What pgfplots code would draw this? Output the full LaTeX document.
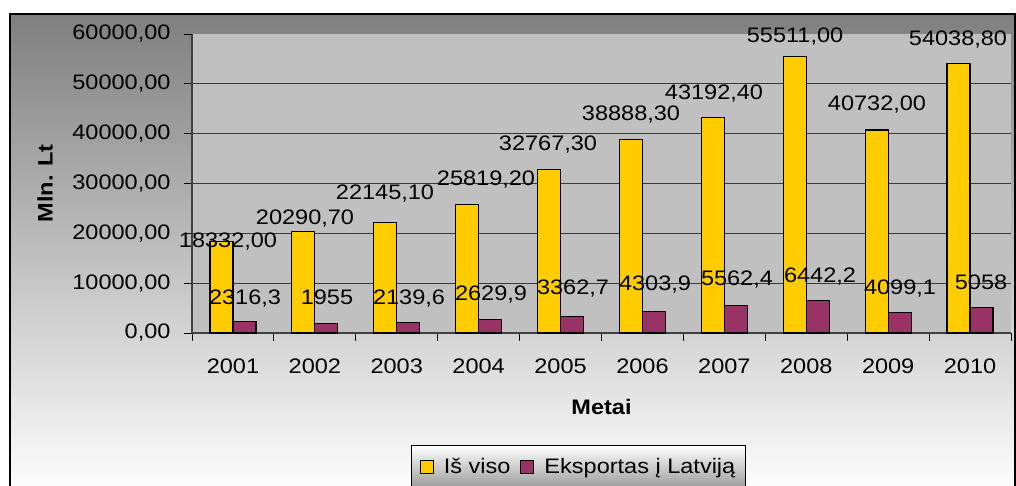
\documentclass[border=0pt]{standalone}
\usepackage{fontspec}
\setmainfont{Liberation Sans}[FakeStretch=1.12]
\usepackage{pgfplots}
\pgfplotsset{compat=1.18}
\definecolor{barY}{HTML}{FFCC00}
\definecolor{barM}{HTML}{993366}
\definecolor{plotgray}{HTML}{C0C0C0}
\definecolor{bgtop}{HTML}{7F7F7F}
\definecolor{gridgray}{HTML}{3A3A3A}
\definecolor{axisgray}{HTML}{404040}
\definecolor{leggray}{HTML}{9A9A9A}

\pgfplotstableread{
x y
0 18332.00
1 20290.70
2 22145.10
3 25819.20
4 32767.30
5 38888.30
6 43192.40
7 55511.00
8 40732.00
9 54038.80
}\tblY
\pgfplotstableread{
x y
0 2316.3
1 1955
2 2139.6
3 2629.9
4 3362.7
5 4303.9
6 5562.4
7 6442.2
8 4099.1
9 5058
}\tblM
\pgfplotstableread{
x y lab
-0.06 18662 18332,00
0.88 23278 20290,70
1.857 28294 22145,10
3.09 31104 25819,20
3.847 38127 32767,30
4.86 44147 38888,30
5.874 48361 43192,40
6.863 59800 55511,00
7.864 46154 40732,00
8.853 59198 54038,80
}\labY
\pgfplotstableread{
x y lab
0.147 7224 2316,3
1.148 7224 1955
2.15 7224 2139,6
3.151 8027 2629,9
4.152 9231 3362,7
5.153 10033 4303,9
6.154 11037 5562,4
7.168 11639 6442,2
8.145 9231 4099,1
9.134 10234 5058
}\labM

\begin{document}
\begin{tikzpicture}[font=\fontsize{21}{25}\selectfont]
\useasboundingbox (0,0) rectangle (1016pt,486pt);
\clip (0,0) rectangle (1016pt,486pt);
\shade[top color=bgtop, bottom color=white] (10pt,-10pt) rectangle (1015pt,472pt);
\draw[black, line width=1.5pt] (10pt,-10pt) rectangle (1015pt,472pt);
\begin{axis}[
  at={(192pt,153pt)}, anchor=south west,
  scale only axis, width=819pt, height=299pt,
  xmin=-0.5, xmax=9.5, ymin=0, ymax=60000,
  clip=false,
  axis background/.style={fill=plotgray},
  axis x line*=bottom, axis y line*=left,
  axis line style={line width=1.2pt, color=axisgray},
  xtick={-0.5,0.5,1.5,2.5,3.5,4.5,5.5,6.5,7.5,8.5,9.5},
  xticklabels={},
  extra x ticks={0,1,2,3,4,5,6,7,8,9},
  extra x tick labels={2001,2002,2003,2004,2005,2006,2007,2008,2009,2010},
  extra x tick style={major tick length=0pt, grid=none, xticklabel style={yshift=-22pt}},
  ytick={0,10000,20000,30000,40000,50000},
  extra y ticks={60000}, extra y tick style={grid=none},
  ymajorgrids, major grid style={color=gridgray, line width=0.9pt},
  tick align=outside, major tick length=8pt,
  tick style={color=black, line width=0.9pt},
  scaled y ticks=false,
  /pgf/number format/fixed,
  /pgf/number format/fixed zerofill,
  /pgf/number format/precision=2,
  /pgf/number format/use comma,
  /pgf/number format/1000 sep={},
  /pgf/number format/assume math mode=true,
  yticklabel style={xshift=-10pt},
  xlabel={\bfseries Metai},
  xlabel style={at={(axis description cs:0.5,-0.2475)}, anchor=center},
  ylabel={\bfseries Mln. Lt},
  ylabel style={at={(axis description cs:-0.1795,0.5)}, anchor=center, rotate=0},
  legend style={at={(axis description cs:0.472,-0.3746)}, anchor=north,
    legend columns=-1, draw=black, line width=1pt,
    top color=white, bottom color=leggray,
    inner xsep=8pt, inner ysep=11pt,
    /tikz/every odd column/.append style={column sep=8pt},
    /tikz/every even column/.append style={column sep=8pt}},
  legend cell align=left,
]
\addplot[ybar, bar width=23pt, bar shift=-11.5pt, fill=barY, draw=black, line width=1.2pt,
  legend image code/.code={\draw[fill=barY, draw=black, line width=1pt] (0pt,-6.5pt) rectangle (13pt,6.5pt);}]
  table[x=x, y=y] {\tblY};
\addplot[ybar, bar width=23pt, bar shift=11.5pt, fill=barM, draw=black, line width=1.2pt,
  legend image code/.code={\draw[fill=barM, draw=black, line width=1pt] (0pt,-6.5pt) rectangle (13pt,6.5pt);}]
  table[x=x, y=y] {\tblM};
\addplot[only marks, mark=none, forget plot, nodes near coords, point meta=explicit symbolic,
  every node near coord/.append style={anchor=center, text depth=0pt, inner sep=0pt, black}]
  table[x=x, y=y, meta=lab] {\labY};
\addplot[only marks, mark=none, forget plot, nodes near coords, point meta=explicit symbolic,
  every node near coord/.append style={anchor=center, text depth=0pt, inner sep=0pt, black}]
  table[x=x, y=y, meta=lab] {\labM};
\legend{Iš viso, Eksportas į Latviją}
\end{axis}
\end{tikzpicture}
\end{document}
